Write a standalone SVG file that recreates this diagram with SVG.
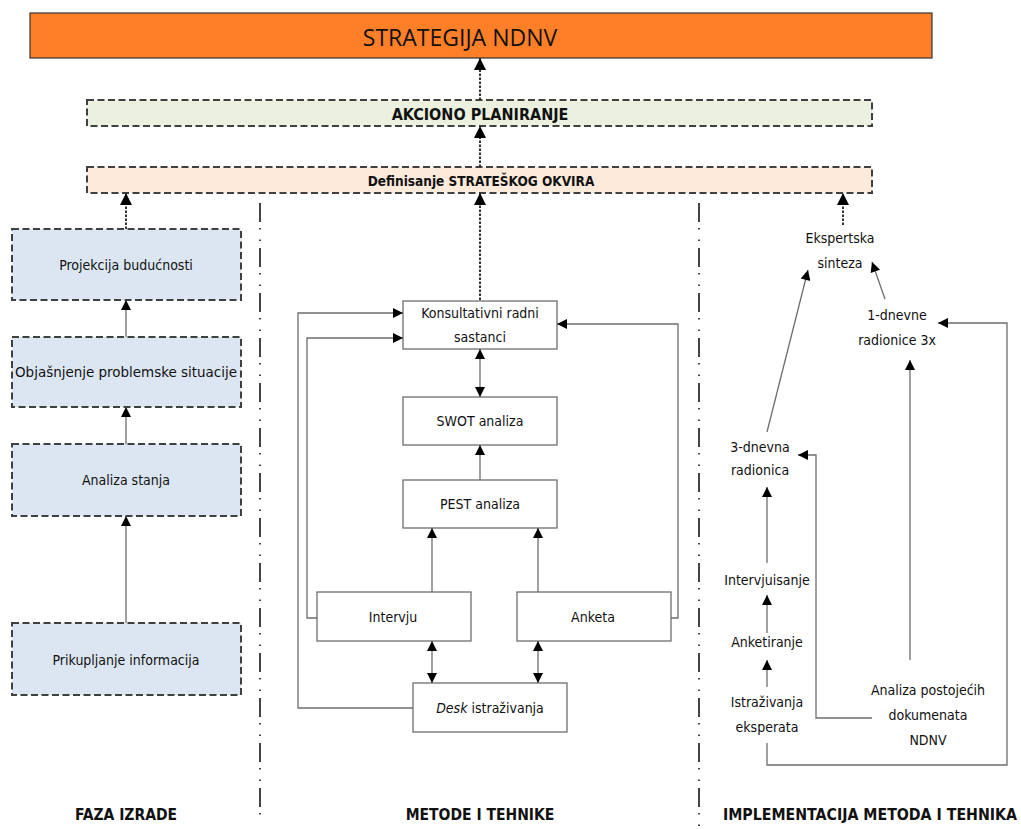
<svg xmlns="http://www.w3.org/2000/svg" width="1021" height="829" viewBox="0 0 1021 829">
<style>
text{font-family:"DejaVu Sans Condensed","Liberation Sans Narrow","Liberation Sans",sans-serif;fill:#111;text-anchor:middle;dominant-baseline:central}
.t{font-size:14px}
.b{font-weight:bold}
.dash{stroke:#404040;stroke-width:2;stroke-dasharray:7 3.5}
.box{fill:#fff;stroke:#6e6e6e;stroke-width:1.3}
.c{fill:none;stroke:#6e6e6e;stroke-width:1.3}
.d{fill:none;stroke:#333;stroke-width:2;stroke-dasharray:2.5 1.5}
.sep{fill:none;stroke:#444;stroke-width:2;stroke-dasharray:19 6 1.5 10 1.5 7}
</style>
<defs>
<marker id="ahb" viewBox="0 0 10 10" refX="10" refY="5" markerWidth="14" markerHeight="10" markerUnits="userSpaceOnUse" orient="auto-start-reverse">
<path d="M0,0 L10,5 L0,10 z" fill="#000"/>
</marker>
<marker id="ahd" viewBox="0 0 10 10" refX="10" refY="5" markerWidth="19" markerHeight="12" markerUnits="userSpaceOnUse" orient="auto-start-reverse">
<path d="M0,0 L10,5 L0,10 z" fill="#000"/>
</marker>
</defs>
<rect width="1021" height="829" fill="#fff"/>

<g id="separators">
<line class="sep" x1="260" y1="203" x2="260" y2="822"/>
<line class="sep" x1="699" y1="203" x2="699" y2="829"/>
</g>

<g id="strategija">
<rect x="30" y="13" width="902" height="45" fill="#fe7f27" stroke="#333" stroke-width="1.2"/>
<text x="460" y="37" style="font-family:'Open Sans','Liberation Sans',sans-serif;font-size:23px">STRATEGIJA NDNV</text>
</g>
<g id="akciono">
<rect x="87" y="100" width="785" height="26" fill="#ebf1de" class="dash"/>
<text class="b" x="480" y="114" style="font-size:16px">AKCIONO PLANIRANJE</text>
</g>
<g id="definisanje">
<rect x="87" y="167" width="785" height="26" fill="#fdeada" class="dash"/>
<text class="b" x="481" y="181" style="font-size:13.5px">Definisanje STRATEŠKOG OKVIRA</text>
</g>

<g id="projekcija">
<rect x="12" y="229" width="229" height="71" fill="#dce6f2" class="dash"/>
<text class="t" x="126" y="265">Projekcija budućnosti</text>
</g>
<g id="objasnjenje">
<rect x="12" y="337" width="229" height="70" fill="#dce6f2" class="dash"/>
<text class="t" x="126" y="372" textLength="222" lengthAdjust="spacingAndGlyphs">Objašnjenje problemske situacije</text>
</g>
<g id="analiza">
<rect x="12" y="444" width="229" height="72" fill="#dce6f2" class="dash"/>
<text class="t" x="126" y="480">Analiza stanja</text>
</g>
<g id="prikupljanje">
<rect x="12" y="623" width="229" height="72" fill="#dce6f2" class="dash"/>
<text class="t" x="126" y="660">Prikupljanje informacija</text>
</g>

<g id="konsultativni">
<rect class="box" x="403" y="301" width="154" height="48"/>
<text class="t" x="480" y="313">Konsultativni radni</text>
<text class="t" x="480" y="337">sastanci</text>
</g>
<g id="swot">
<rect class="box" x="403" y="397" width="154" height="48"/>
<text class="t" x="480" y="421">SWOT analiza</text>
</g>
<g id="pest">
<rect class="box" x="403" y="480" width="154" height="48"/>
<text class="t" x="480" y="504">PEST analiza</text>
</g>
<g id="intervju">
<rect class="box" x="317" y="592" width="154" height="49"/>
<text class="t" x="393" y="617">Intervju</text>
</g>
<g id="anketa">
<rect class="box" x="517" y="592" width="154" height="49"/>
<text class="t" x="593" y="617">Anketa</text>
</g>
<g id="desk">
<rect class="box" x="413" y="683" width="154" height="49"/>
<text class="t" x="490" y="708"><tspan font-style="italic">Desk</tspan> istraživanja</text>
</g>

<g id="ekspertska">
<text class="t" x="840" y="238">Ekspertska</text>
<text class="t" x="840" y="263">sinteza</text>
</g>
<g id="jednodnevne">
<text class="t" x="897" y="315">1-dnevne</text>
<text class="t" x="897" y="340">radionice 3x</text>
</g>
<g id="trodnevna">
<text class="t" x="760" y="447">3-dnevna</text>
<text class="t" x="760" y="470">radionica</text>
</g>
<g id="intervjuisanje">
<text class="t" x="767" y="580">Intervjuisanje</text>
</g>
<g id="anketiranje">
<text class="t" x="767" y="642">Anketiranje</text>
</g>
<g id="istrazivanja">
<text class="t" x="767" y="702">Istraživanja</text>
<text class="t" x="767" y="727">eksperata</text>
</g>
<g id="analiza-dok">
<text class="t" x="928" y="690">Analiza postojećih</text>
<text class="t" x="928" y="715">dokumenata</text>
<text class="t" x="928" y="740">NDNV</text>
</g>

<g id="labels">
<text class="b" x="126" y="815" style="font-size:15.5px">FAZA IZRADE</text>
<text class="b" x="480" y="815" style="font-size:15.5px">METODE I TEHNIKE</text>
<text class="b" x="870" y="815" style="font-size:15.5px" textLength="294" lengthAdjust="spacingAndGlyphs">IMPLEMENTACIJA METODA I TEHNIKA</text>
</g>

<g id="connectors">
<line class="d" x1="480" y1="100" x2="480" y2="58" marker-end="url(#ahd)"/>
<line class="d" x1="480" y1="167" x2="480" y2="126" marker-end="url(#ahd)"/>
<line class="d" x1="126" y1="229" x2="126" y2="193" marker-end="url(#ahd)"/>
<line class="d" x1="480" y1="300" x2="480" y2="193" marker-end="url(#ahd)"/>
<line class="d" x1="843" y1="225" x2="843" y2="193" marker-end="url(#ahd)"/>

<line class="c" x1="126" y1="337" x2="126" y2="300" marker-end="url(#ahb)"/>
<line class="c" x1="126" y1="444" x2="126" y2="407" marker-end="url(#ahb)"/>
<line class="c" x1="126" y1="623" x2="126" y2="516" marker-end="url(#ahb)"/>

<line class="c" x1="480" y1="349" x2="480" y2="397" marker-start="url(#ahb)" marker-end="url(#ahb)"/>
<line class="c" x1="480" y1="480" x2="480" y2="445" marker-end="url(#ahb)"/>
<line class="c" x1="432" y1="592" x2="432" y2="528" marker-end="url(#ahb)"/>
<line class="c" x1="538" y1="592" x2="538" y2="528" marker-end="url(#ahb)"/>
<line class="c" x1="432" y1="641" x2="432" y2="683" marker-start="url(#ahb)" marker-end="url(#ahb)"/>
<line class="c" x1="538" y1="641" x2="538" y2="683" marker-start="url(#ahb)" marker-end="url(#ahb)"/>
<path class="c" d="M413,708 H298 V313 H403" marker-end="url(#ahb)"/>
<path class="c" d="M317,618 H307 V338 H403" marker-end="url(#ahb)"/>
<path class="c" d="M671,618 H678 V324 H557" marker-end="url(#ahb)"/>

<line class="c" x1="767" y1="432" x2="808" y2="270" marker-end="url(#ahb)"/>
<line class="c" x1="885" y1="299" x2="872" y2="262" marker-end="url(#ahb)"/>
<line class="c" x1="910" y1="660" x2="910" y2="360" marker-end="url(#ahb)"/>
<path class="c" d="M767,743 V765 H1007 V323 H938" marker-end="url(#ahb)"/>
<path class="c" d="M872,718 H816 V455 H798" marker-end="url(#ahb)"/>
<line class="c" x1="767" y1="563" x2="767" y2="487" marker-end="url(#ahb)"/>
<line class="c" x1="767" y1="633" x2="767" y2="595" marker-end="url(#ahb)"/>
<line class="c" x1="767" y1="687" x2="767" y2="660" marker-end="url(#ahb)"/>
</g>
</svg>
